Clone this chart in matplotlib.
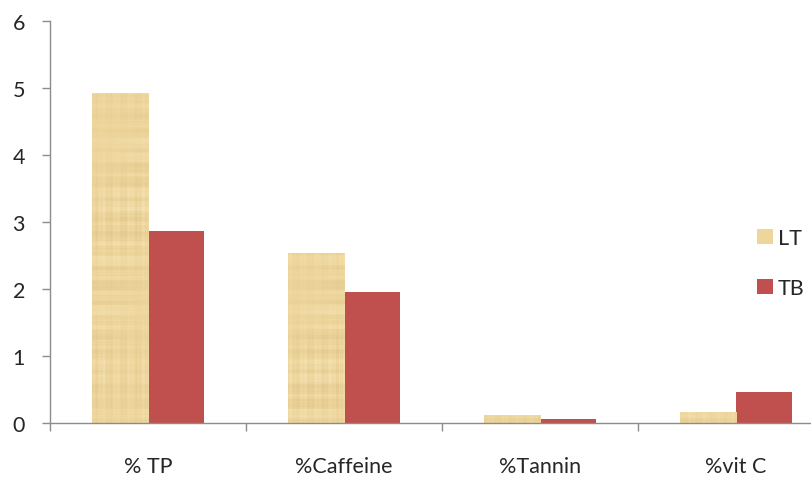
import numpy as np
import matplotlib
matplotlib.use("Agg")
import matplotlib.pyplot as plt
from matplotlib.patches import Patch

# Chart data
categories = ["% TP", "%Caffeine", "%Tannin", "%vit C"]
series_names = ["LT", "TB"]
lt_values = [4.92, 2.54, 0.12, 0.16]
tb_values = [2.87, 1.95, 0.06, 0.46]
y_ticks = [0, 1, 2, 3, 4, 5, 6]

LT_BASE = "#EDD59B"
TB_COLOR = "#C0504D"
AXIS_GRAY = "#8C8C8C"
TEXT_COLOR = "#262626"
XMAX = 3.383

plt.rcParams["font.family"] = ["Lato", "DejaVu Sans"]

W, H = 811, 485
fig = plt.figure(figsize=(W / 100, H / 100), dpi=100)
ax = fig.add_axes([50 / W, 61 / H, 761 / W, 402 / H])

x = np.arange(len(categories))
bw = 0.286

lt_bars = ax.bar(x - bw / 2, lt_values, width=bw, color=LT_BASE, linewidth=0, zorder=2)
tb_bars = ax.bar(x + bw / 2, tb_values, width=bw, color=TB_COLOR, linewidth=0, zorder=2)

# Faint papyrus-like fibre texture for the LT bars (deterministic pattern)
ny, nx = 402, 761
yy = np.arange(ny)[:, None].astype(float)
xx = np.arange(nx)[None, :].astype(float)
rows = (np.sin(yy * 0.91) * 0.5 + np.sin(yy * 0.37 + 1.3) * 0.8
        + np.sin(yy * 2.17 + 0.4) * 0.4 + np.sin(yy * 0.113) * 0.6)
cols = (np.sin(xx * 1.31 + 0.7) * 0.5 + np.sin(xx * 0.47 + 2.1) * 0.6
        + np.sin(xx * 2.93) * 0.4)
fib = 0.5 * np.tanh(rows) * (0.7 + 0.3 * np.sin(xx * 0.05 + yy * 0.02)) \
    + 0.5 * np.tanh(cols) * (0.6 + 0.4 * np.sin(yy * 0.04))
t = (fib - fib.min()) / (fib.max() - fib.min())
base = np.array([237, 213, 155], dtype=float) / 255.0
light = np.array([246, 228, 182], dtype=float) / 255.0
dark = np.array([222, 198, 140], dtype=float) / 255.0
tex = np.where(t[..., None] > 0.5,
               base + (light - base) * ((t[..., None] - 0.5) * 2),
               base + (dark - base) * ((0.5 - t[..., None]) * 2))
tex = np.clip(tex, 0, 1)
for bar in lt_bars:
    im = ax.imshow(tex, extent=[-0.5, XMAX, 0, 6], aspect="auto",
                   interpolation="bilinear", zorder=2.5)
    im.set_clip_path(bar)

# Axes styling
for side in ("top", "right"):
    ax.spines[side].set_visible(False)
for side in ("left", "bottom"):
    ax.spines[side].set_color(AXIS_GRAY)
    ax.spines[side].set_linewidth(1.0)

ax.set_yticks(y_ticks)
ax.set_yticklabels([str(v) for v in y_ticks])
ax.tick_params(axis="y", direction="out", length=6, width=1, color=AXIS_GRAY,
               pad=12, labelsize=15.5, labelcolor=TEXT_COLOR)

ax.set_xticks(np.arange(-0.5, len(categories) + 0.5, 1.0))
ax.set_xticklabels([])
ax.set_xticks(x, minor=True)
ax.set_xticklabels(categories, minor=True)
ax.tick_params(axis="x", which="major", direction="out", length=6, width=1,
               color=AXIS_GRAY)
ax.tick_params(axis="x", which="minor", length=0, pad=24, labelsize=15.5,
               labelcolor=TEXT_COLOR)

ax.set_xlim(-0.5, XMAX)
ax.set_ylim(0, 6)

handles = [Patch(facecolor=LT_BASE, edgecolor="none"),
           Patch(facecolor=TB_COLOR, edgecolor="none")]
fig.legend(handles, series_names, loc="upper left",
           bbox_to_anchor=(757 / W, 1 - 229 / H), frameon=False,
           fontsize=15.5, handlelength=0.72, handleheight=0.72,
           handletextpad=0.25, labelspacing=1.4, borderpad=0,
           borderaxespad=0, labelcolor=TEXT_COLOR)

fig.savefig("out.png", dpi=100)
